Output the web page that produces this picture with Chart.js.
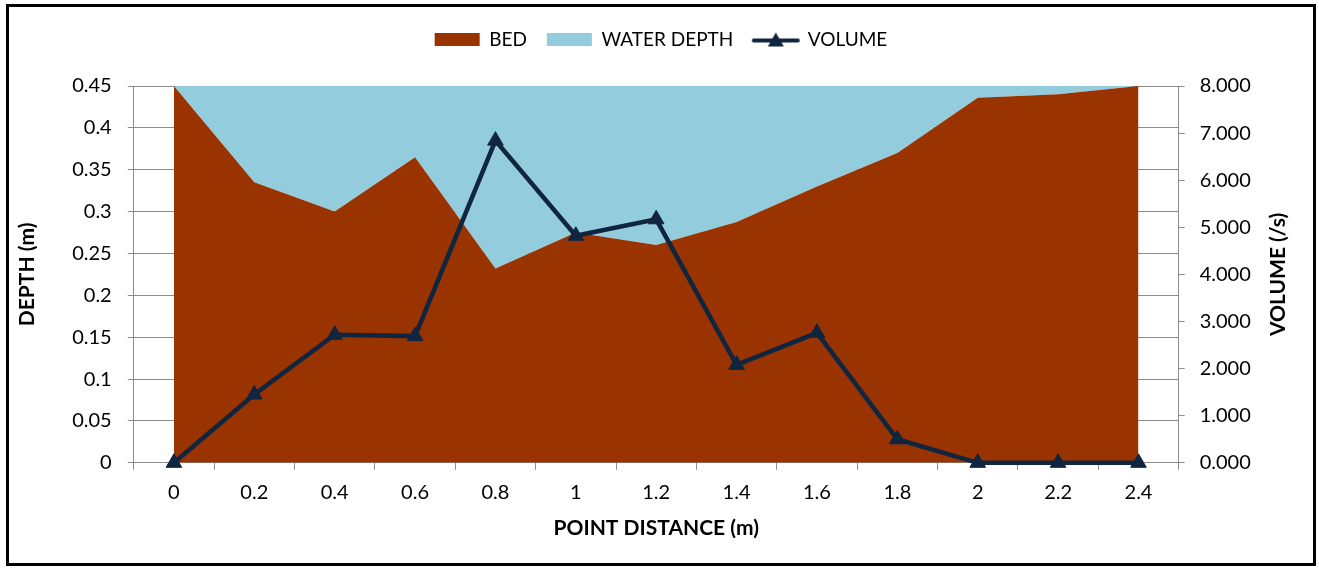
<!DOCTYPE html>
<html lang="en">
<head>
<meta charset="UTF-8">
<title>Bed, water depth and volume</title>
<script src="https://cdn.jsdelivr.net/npm/chart.js"></script>
<style>
  body { margin: 0; background: #fff; }
  .frame {
    position: absolute;
    left: 6px; top: 4px;
    width: 1310px; height: 562px;
    border: 3px solid #000;
    box-sizing: border-box;
    background: #fff;
  }
</style>
</head>
<body>
<div class="frame"><canvas id="chart"></canvas></div>
<script>
const distances = ["0", "0.2", "0.4", "0.6", "0.8", "1", "1.2", "1.4", "1.6", "1.8", "2", "2.2", "2.4"];
const bed = [0.45, 0.335, 0.30, 0.365, 0.232, 0.275, 0.26, 0.2875, 0.33, 0.37, 0.436, 0.44, 0.45];
const waterDepth = [0, 0.115, 0.15, 0.085, 0.218, 0.175, 0.19, 0.1625, 0.12, 0.08, 0.014, 0.01, 0];
const volume = [0, 1.45, 2.72, 2.69, 6.84, 4.82, 5.17, 2.08, 2.76, 0.50, 0, 0, 0];

const BED_COLOR = "#993300";
const WATER_COLOR = "#93CDDD";
const NAVY = "#10253F";
const GRID = "#8c8c8c";
const FONT = "Lato";
const TITLE_SIZE = 21;

Chart.defaults.font.family = FONT;
Chart.defaults.color = "#000";

// little line + triangle glyph for the VOLUME legend entry
function volumeGlyph() {
    const c = document.createElement("canvas");
    c.width = 50; c.height = 18;
    const g = c.getContext("2d");
    g.strokeStyle = NAVY;
    g.lineWidth = 4;
    g.lineCap = "round";
    g.beginPath(); g.moveTo(3, 10); g.lineTo(47, 10); g.stroke();
    g.fillStyle = NAVY;
    g.beginPath(); g.moveTo(25, 2); g.lineTo(33, 16); g.lineTo(17, 16); g.closePath(); g.fill();
    return c;
}

// push the plot down below the legend
const legendGap = {
    id: "legendGap",
    beforeInit(chart) {
        const fit = chart.legend.fit;
        chart.legend.fit = function () {
            fit.call(this);
            this.height += 27;
        };
    }
};

// right axis title reads bottom-to-top like the left one
const rightTitle = {
    id: "rightTitle",
    afterDraw(chart) {
        const s = chart.scales.y1;
        const pad = s.options.title.padding.top;
        const ctx = chart.ctx;
        ctx.save();
        ctx.font = "bold " + TITLE_SIZE + "px " + FONT;
        ctx.fillStyle = "#000";
        ctx.textAlign = "center";
        ctx.textBaseline = "middle";
        ctx.translate(s.right - pad - TITLE_SIZE * 0.6, (s.top + s.bottom) / 2);
        ctx.rotate(-Math.PI / 2);
        ctx.fillText("VOLUME (/s)", 0, 0);
        ctx.restore();
    }
};

const glyph = volumeGlyph();

new Chart(document.getElementById("chart"), {
    type: "line",
    data: {
        labels: distances,
        datasets: [
            {
                label: "BED",
                data: bed,
                order: 2,
                yAxisID: "y",
                backgroundColor: BED_COLOR,
                borderWidth: 0,
                pointRadius: 0,
                fill: "origin",
                tension: 0
            },
            {
                label: "WATER DEPTH",
                data: waterDepth,
                order: 3,
                yAxisID: "y",
                backgroundColor: WATER_COLOR,
                borderWidth: 0,
                pointRadius: 0,
                fill: "-1",
                tension: 0
            },
            {
                label: "VOLUME",
                data: volume,
                order: 1,
                yAxisID: "y1",
                borderColor: NAVY,
                backgroundColor: NAVY,
                borderWidth: 4.5,
                pointStyle: "triangle",
                pointRadius: 9,
                pointBorderWidth: 1,
                pointBackgroundColor: NAVY,
                pointBorderColor: NAVY,
                fill: false,
                tension: 0,
                clip: false
            }
        ]
    },
    options: {
        responsive: true,
        maintainAspectRatio: false,
        animation: false,
        events: [],
        layout: { padding: { top: 3, left: 0, right: 0, bottom: 18 } },
        plugins: {
            tooltip: { enabled: false },
            legend: {
                position: "top",
                labels: {
                    font: { size: 19 },
                    padding: 20,
                    usePointStyle: true,
                    pointStyleWidth: 45,
                    boxHeight: 13,
                    generateLabels(chart) {
                        const ds = chart.data.datasets;
                        return [
                            { text: ds[0].label, fillStyle: BED_COLOR, strokeStyle: BED_COLOR, lineWidth: 0, pointStyle: "rect", datasetIndex: 0 },
                            { text: ds[1].label, fillStyle: WATER_COLOR, strokeStyle: WATER_COLOR, lineWidth: 0, pointStyle: "rect", datasetIndex: 1 },
                            { text: ds[2].label, fillStyle: NAVY, strokeStyle: NAVY, lineWidth: 0, pointStyle: glyph, datasetIndex: 2 }
                        ];
                    }
                }
            }
        },
        scales: {
            x: {
                offset: true,
                grid: {
                    offset: true,
                    drawOnChartArea: false,
                    drawTicks: true,
                    tickLength: 7,
                    color: GRID
                },
                border: { display: true, color: GRID, width: 1 },
                ticks: { font: { size: 20 }, padding: 11, maxRotation: 0 },
                title: {
                    display: true,
                    text: "POINT DISTANCE (m)",
                    font: { size: TITLE_SIZE, weight: "bold" },
                    padding: { top: 0, bottom: 4 }
                }
            },
            y: {
                position: "left",
                stacked: true,
                min: 0,
                max: 0.45,
                grid: { color: GRID, tickLength: 6 },
                border: { display: true, color: GRID, width: 1 },
                ticks: {
                    stepSize: 0.05,
                    font: { size: 20 },
                    padding: 16,
                    callback: v => String(parseFloat(v.toFixed(2)))
                },
                title: {
                    display: true,
                    text: "DEPTH (m)",
                    font: { size: TITLE_SIZE, weight: "bold" },
                    padding: { top: 6, bottom: 16 }
                }
            },
            y1: {
                position: "right",
                min: 0,
                max: 8,
                grid: { drawOnChartArea: false, color: GRID, tickLength: 6 },
                border: { display: true, color: GRID, width: 1 },
                ticks: {
                    stepSize: 1,
                    font: { size: 20 },
                    padding: 15,
                    callback: v => v.toFixed(3)
                },
                title: {
                    display: true,
                    text: "VOLUME (/s)",
                    color: "rgba(0,0,0,0)",
                    font: { size: TITLE_SIZE, weight: "bold" },
                    padding: { top: 22, bottom: 0 }
                }
            }
        }
    },
    plugins: [legendGap, rightTitle]
});
</script>
</body>
</html>
